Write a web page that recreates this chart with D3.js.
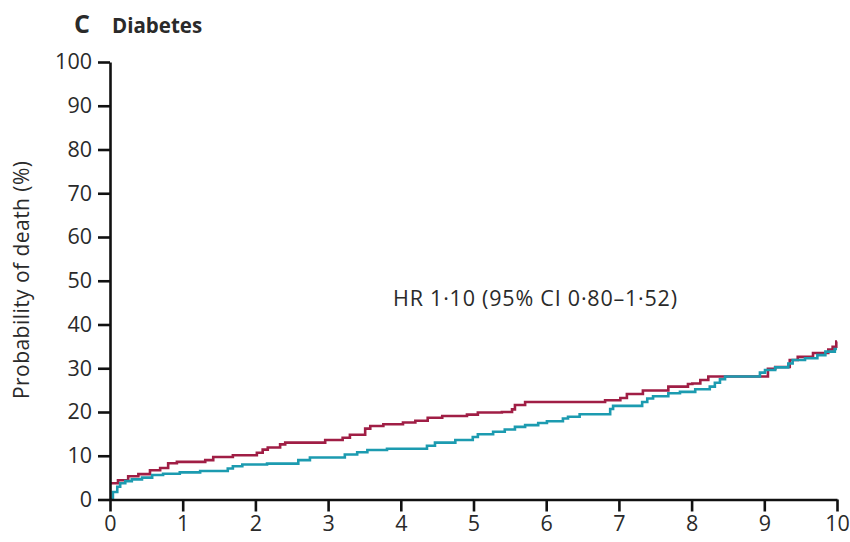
<!DOCTYPE html>
<html><head><meta charset="utf-8">
<script src="https://cdn.jsdelivr.net/npm/d3@7/dist/d3.min.js"></script>
<style>body{margin:0;background:#fff}svg{display:block}text{font-family:"Open Sans",Lato,sans-serif;fill:#2a2a2a}</style>
</head><body><svg id="c" width="850" height="542"></svg>
<script>
const xTicks = [0,1,2,3,4,5,6,7,8,9,10];
const yTicks = [0,10,20,30,40,50,60,70,80,90,100];
// Kaplan–Meier style cumulative probability of death (%), [years, %] step-after
const redTimes = [0,0.11,0.25,0.39,0.55,0.69,0.80,0.92,1.31,1.42,1.69,2.02,2.10,2.17,2.34,2.41,2.96,3.20,3.30,3.51,3.58,3.76,4.03,4.20,4.37,4.57,4.91,5.06,5.39,5.53,5.57,5.71,6.81,7.02,7.11,7.33,7.68,7.95,8.01,8.12,8.23,9.05,9.15,9.35,9.46,9.67,9.88,9.94,9.99,10];
const redValues = [3.7,4.4,5.3,5.8,6.7,7.2,8.3,8.6,9.0,9.7,10.1,10.7,11.4,11.9,12.6,13.0,13.6,14.1,14.8,16.2,16.8,17.2,17.6,18.0,18.7,19.1,19.4,19.9,20.0,20.6,21.6,22.3,22.7,23.2,24.1,24.9,25.8,26.4,26.5,27.3,28.1,29.9,30.3,31.9,32.6,33.5,34.3,34.9,36.1,36.1];
const tealTimes = [0,0.04,0.10,0.14,0.21,0.30,0.44,0.58,0.73,0.96,1.24,1.62,1.69,1.82,2.16,2.59,2.75,3.23,3.40,3.54,3.81,4.36,4.47,4.75,4.99,5.06,5.27,5.43,5.57,5.71,5.89,6.01,6.23,6.30,6.46,6.88,6.92,7.32,7.39,7.47,7.68,7.84,8.05,8.25,8.32,8.39,8.46,8.94,9.01,9.15,9.33,9.39,9.56,9.73,9.84,9.97,10];
const tealValues = [0,1.7,2.9,3.7,4.2,4.6,5.0,5.6,5.9,6.2,6.5,7.1,7.6,8.0,8.2,9.0,9.6,10.3,10.8,11.3,11.6,12.3,13.0,13.6,14.3,14.9,15.5,16.0,16.6,17.0,17.5,17.9,18.5,18.9,19.5,20.7,21.4,22.3,23.1,23.6,24.3,24.6,25.2,25.8,26.7,27.5,28.1,29.0,29.6,30.2,31.1,31.9,32.3,33.0,33.8,34.4,34.4];
const annotation = "HR 1·10 (95% CI 0·80–1·52)";

const svg = d3.select("#c");
const x = d3.scaleLinear().domain([0,10]).range([110,837]);
const y = d3.scaleLinear().domain([0,100]).range([499.5,62]);

const line = d3.line().x(d=>x(d[0])).y(d=>y(d[1])).curve(d3.curveStepAfter);
const red = redTimes.map((t,i)=>[t,redValues[i]]);
const teal = tealTimes.map((t,i)=>[t,tealValues[i]]);
svg.append("path").attr("d",line(red)).attr("fill","none").attr("stroke","#a01e45").attr("stroke-width",2.6);
svg.append("path").attr("d",line(teal)).attr("fill","none").attr("stroke","#1c9bb0").attr("stroke-width",2.6);

const ya = svg.append("g").attr("transform","translate(110,0)")
  .call(d3.axisLeft(y).tickValues(yTicks).tickSize(12).tickSizeOuter(0).tickPadding(6));
const xa = svg.append("g").attr("transform","translate(0,499.5)")
  .call(d3.axisBottom(x).tickValues(xTicks).tickSize(12).tickSizeOuter(0).tickPadding(4));
[ya,xa].forEach(g=>{
  g.select(".domain").attr("stroke","#111").attr("stroke-width",2.6);
  g.selectAll(".tick line").attr("stroke","#111").attr("stroke-width",2.6);
  g.selectAll(".tick text").style("font-family","'Open Sans', Lato, sans-serif").attr("font-size",21.5).attr("fill","#2a2a2a");
});

svg.append("text").attr("transform","translate(29,280) rotate(-90)").attr("text-anchor","middle")
  .attr("font-size",21).attr("textLength",238).attr("lengthAdjust","spacing").text("Probability of death (%)");
svg.append("text").attr("x",74).attr("y",33).attr("font-size",25).attr("font-weight",700).text("C");
svg.append("text").attr("x",112).attr("y",33).attr("font-size",20.5).attr("font-weight",700).text("Diabetes");
svg.append("text").attr("x",393).attr("y",306).attr("font-size",21.5).attr("textLength",284).attr("lengthAdjust","spacing").text(annotation);
</script></body></html>
